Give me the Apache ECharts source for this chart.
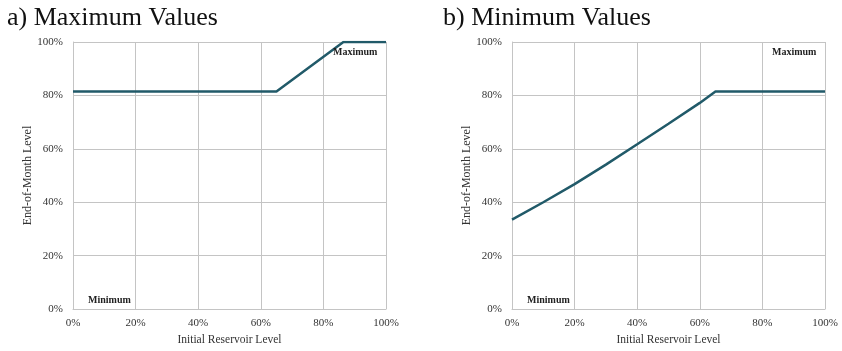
<!DOCTYPE html>
<html>
<head>
<meta charset="utf-8">
<script src="https://cdn.jsdelivr.net/npm/echarts@6/dist/echarts.min.js"></script>
<style>
  html, body { margin: 0; padding: 0; background: #fff; }
  #chart { width: 842px; height: 351px; }
</style>
</head>
<body>
<div id="chart"></div>
<script>
// Initial reservoir level (%) and end-of-month level (%) for each rule curve
const maxLevels   = [0, 65, 86.4, 100];
const maxValues   = [81.5, 81.5, 100, 100];
const minLevels   = [0, 10, 20, 30, 40, 50, 60, 65, 100];
const minValues   = [33.5, 40.0, 46.8, 54.1, 61.7, 69.4, 77.2, 81.5, 81.5];
const tickStep = 20;
const panelTitles = ['a) Maximum Values', 'b) Minimum Values'];
const xName = 'Initial Reservoir Level';
const yName = 'End-of-Month Level';

const serif = '"Liberation Serif", "DejaVu Serif", serif';
const lineColor = '#215a69';
const gridColor = '#c4c4c4';
const labelColor = '#333';

const grids = [
  { left: 73, top: 42, width: 313, height: 269 },
  { left: 512, top: 42, width: 313, height: 269 }
];

function xAxis(i) {
  return {
    type: 'value', gridIndex: i, min: 0, max: 100, interval: tickStep,
    name: xName, nameLocation: 'middle', nameGap: 22,
    nameTextStyle: { fontFamily: serif, fontSize: 11.5, color: labelColor },
    axisLine: { show: true, lineStyle: { color: gridColor, width: 1 } },
    axisTick: { show: false },
    axisLabel: { formatter: '{value}%', fontFamily: serif, fontSize: 11, color: labelColor, margin: 9 },
    splitLine: { show: true, lineStyle: { color: gridColor, width: 1 } }
  };
}
function yAxis(i) {
  return {
    type: 'value', gridIndex: i, min: 0, max: 100, interval: tickStep,
    name: yName, nameLocation: 'middle', nameGap: 33, nameRotate: 90,
    nameTextStyle: { fontFamily: serif, fontSize: 12, color: labelColor },
    axisLine: { show: true, lineStyle: { color: gridColor, width: 1 } },
    axisTick: { show: false },
    axisLabel: { formatter: '{value}%', fontFamily: serif, fontSize: 11, color: labelColor, margin: 10 },
    splitLine: { show: true, lineStyle: { color: gridColor, width: 1 } }
  };
}
function curve(i, xs, ys) {
  return {
    type: 'line', xAxisIndex: i, yAxisIndex: i,
    data: xs.map((x, k) => [x, ys[k]]),
    showSymbol: false, smooth: false,
    lineStyle: { color: lineColor, width: 2.5 },
    z: 5
  };
}
function note(text, left, top) {
  return {
    type: 'text', left: left, top: top, z: 10,
    style: { text: text, fontFamily: serif, fontSize: 10, fontWeight: 'bold', fill: '#222' }
  };
}

const chart = echarts.init(document.getElementById('chart'), null, { renderer: 'canvas' });
chart.setOption({
  animation: false,
  backgroundColor: '#fff',
  title: [
    { text: panelTitles[0], left: 2, top: 0, textStyle: { fontFamily: serif, fontSize: 26, fontWeight: 'normal', color: '#111' } },
    { text: panelTitles[1], left: 438, top: 0, textStyle: { fontFamily: serif, fontSize: 26, fontWeight: 'normal', color: '#111' } }
  ],
  grid: grids.map(g => Object.assign({ containLabel: false, show: false }, g)),
  xAxis: [xAxis(0), xAxis(1)],
  yAxis: [yAxis(0), yAxis(1)],
  series: [curve(0, maxLevels, maxValues), curve(1, minLevels, minValues)],
  graphic: [
    note('Maximum', 333, 47),
    note('Minimum', 88, 295),
    note('Maximum', 772, 47),
    note('Minimum', 527, 295)
  ]
});
</script>
</body>
</html>
